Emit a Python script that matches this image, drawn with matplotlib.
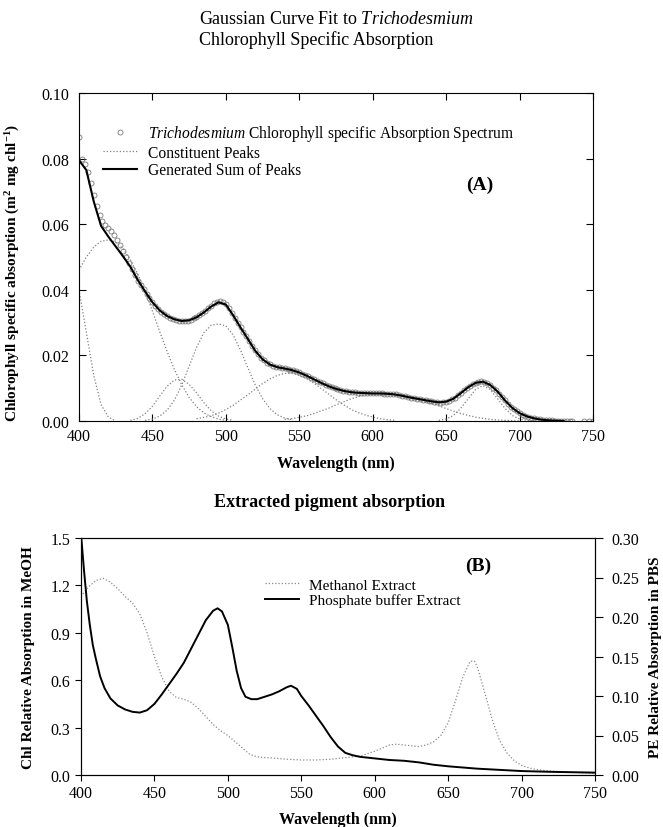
import numpy as np
import matplotlib
matplotlib.use('Agg')
from matplotlib import pyplot as plt
from matplotlib.ticker import FormatStrFormatter, MultipleLocator

plt.rcParams['font.family'] = ['Liberation Serif', 'DejaVu Serif']
plt.rcParams['mathtext.fontset'] = 'custom'
plt.rcParams['mathtext.rm'] = 'Liberation Serif'
plt.rcParams['mathtext.it'] = 'Liberation Serif:italic'
plt.rcParams['mathtext.bf'] = 'Liberation Serif:bold'

# --- панель A: спектр поглощения и гауссовы пики ---
obs_wl = list(range(400, 737, 2)) + [744, 747, 750]
obs_abs = [
    0.0866, 0.0800, 0.0785, 0.0760, 0.0725, 0.0690, 0.0655, 0.0628, 0.0610, 0.0598,
    0.0588, 0.0578, 0.0566, 0.0552, 0.0536, 0.0518, 0.0500, 0.0482, 0.0464, 0.0446,
    0.0428, 0.0414, 0.0401, 0.0388, 0.0375, 0.0363, 0.0352, 0.0342, 0.0333, 0.0325,
    0.0319, 0.0314, 0.0310, 0.0307, 0.0305, 0.0304, 0.0304, 0.0306, 0.0309, 0.0313,
    0.0318, 0.0323, 0.0329, 0.0336, 0.0344, 0.0352, 0.0359, 0.0364, 0.0366, 0.0364,
    0.0357, 0.0345, 0.0330, 0.0315, 0.0300, 0.0286, 0.0272, 0.0258, 0.0243, 0.0228,
    0.0215, 0.0203, 0.0193, 0.0185, 0.0178, 0.0173, 0.0169, 0.0166, 0.0164, 0.0162,
    0.0161, 0.0159, 0.0157, 0.0154, 0.0151, 0.0148, 0.0144, 0.0140, 0.0136, 0.0131,
    0.0127, 0.0123, 0.0119, 0.0115, 0.0111, 0.0107, 0.0103, 0.0100, 0.0097, 0.0094,
    0.0092, 0.0090, 0.0089, 0.0088, 0.0087, 0.0086, 0.0086, 0.0085, 0.0085, 0.0085,
    0.0084, 0.0084, 0.0084, 0.0084, 0.0083, 0.0083, 0.0083, 0.0082, 0.0081, 0.0079,
    0.0077, 0.0075, 0.0073, 0.0071, 0.0069, 0.0068, 0.0066, 0.0064, 0.0063, 0.0061,
    0.0060, 0.0058, 0.0057, 0.0056, 0.0057, 0.0059, 0.0062, 0.0066, 0.0071, 0.0078,
    0.0085, 0.0093, 0.0100, 0.0107, 0.0113, 0.0117, 0.0120, 0.0121, 0.0120, 0.0116,
    0.0110, 0.0102, 0.0093, 0.0083, 0.0073, 0.0063, 0.0053, 0.0044, 0.0036, 0.0029,
    0.0024, 0.0019, 0.0015, 0.0012, 0.0010, 0.0008, 0.0006, 0.0005, 0.0004, 0.0003,
    0.0002, 0.0002, 0.0001, 0.0001, 0.0001, 0.0000, 0.0000, 0.0000, 0.0000,
    0.0, 0.0, 0.0]

sum_wl = list(range(400, 731, 5))
sum_abs = [
    0.0795, 0.0765, 0.0670, 0.0595, 0.0562, 0.0532, 0.0502, 0.0470, 0.0430, 0.0395,
    0.0362, 0.0337, 0.0320, 0.0310, 0.0305, 0.0307, 0.0316, 0.0331, 0.0349, 0.0362,
    0.0355, 0.0322, 0.0285, 0.0250, 0.0214, 0.0188, 0.0172, 0.0164, 0.0160, 0.0155,
    0.0148, 0.0138, 0.0127, 0.0116, 0.0106, 0.0098, 0.0092, 0.0088, 0.0086, 0.0085,
    0.0084, 0.0084, 0.0083, 0.0081, 0.0077, 0.0072, 0.0068, 0.0064, 0.0060, 0.0057,
    0.0059, 0.0068, 0.0085, 0.0103, 0.0116, 0.0120, 0.0110, 0.0090, 0.0063, 0.0040,
    0.0024, 0.0014, 0.0008, 0.0004, 0.0002, 0.0001, 0.0000]

# отдельные пики, шаг 5 нм от начальной длины волны
peak_start = [400, 400, 435, 445, 480, 540, 645]
peak1 = [0.040, 0.027, 0.014, 0.005, 0.0012, 0.0]
peak2 = [0.046, 0.050, 0.053, 0.0548, 0.0552, 0.0545, 0.0525, 0.0492, 0.0448, 0.0395,
         0.0335, 0.0272, 0.0212, 0.0157, 0.0110, 0.0072, 0.0044, 0.0025, 0.0013, 0.0006,
         0.0002]
peak3 = [0.0002, 0.0008, 0.0022, 0.0045, 0.0076, 0.0106, 0.0125, 0.0127, 0.0112, 0.0086,
         0.0056, 0.0031, 0.0015, 0.0006, 0.0002]
peak4 = [0.0002, 0.0006, 0.0015, 0.0033, 0.0064, 0.0110, 0.0167, 0.0224, 0.0269, 0.0292,
         0.0296, 0.0290, 0.0262, 0.0216, 0.0162, 0.0110, 0.0068, 0.0038, 0.0019, 0.0009,
         0.0004]
peak5 = [0.0007, 0.0011, 0.0016, 0.0024, 0.0035, 0.0048, 0.0064, 0.0080, 0.0097, 0.0114,
         0.0128, 0.0139, 0.0145, 0.0145, 0.0139, 0.0129, 0.0115, 0.0099, 0.0082, 0.0065,
         0.0050, 0.0036, 0.0026, 0.0018, 0.0012, 0.0007, 0.0004, 0.0002]
peak6 = [0.0005, 0.0007, 0.0011, 0.0016, 0.0023, 0.0031, 0.0039, 0.0049, 0.0058, 0.0067,
         0.0074, 0.0079, 0.0082, 0.0083, 0.0083, 0.0082, 0.0079, 0.0075, 0.0069, 0.0062,
         0.0054, 0.0046, 0.0038, 0.0030, 0.0023, 0.0017, 0.0012, 0.0008, 0.0005, 0.0003,
         0.0002, 0.0001, 0.0]
peak7 = [0.0002, 0.0006, 0.0017, 0.0039, 0.0068, 0.0096, 0.0108, 0.0096, 0.0068, 0.0039,
         0.0017, 0.0006, 0.0002, 0.0]
peaks = [peak1, peak2, peak3, peak4, peak5, peak6, peak7]

# --- панель B: экстракты ---
meoh_wl = [400, 405, 410, 415, 420, 425, 430, 435, 440, 445, 450, 455, 460, 465, 470,
           475, 480, 485, 490, 495, 500, 505, 510, 515, 520, 525, 530, 540, 550, 560,
           570, 580, 590, 600, 605, 610, 615, 620, 625, 630, 635, 640, 645, 650, 655,
           660, 665, 668, 670, 675, 680, 685, 690, 695, 700, 705, 710, 720, 730, 740, 750]
meoh_abs = [1.13, 1.19, 1.23, 1.245, 1.22, 1.18, 1.13, 1.09, 1.02, 0.90, 0.75, 0.62, 0.53,
            0.49, 0.48, 0.46, 0.42, 0.37, 0.32, 0.28, 0.25, 0.21, 0.17, 0.13, 0.115,
            0.11, 0.108, 0.10, 0.095, 0.095, 0.10, 0.11, 0.12, 0.15, 0.17, 0.19, 0.195,
            0.19, 0.185, 0.18, 0.19, 0.21, 0.25, 0.33, 0.47, 0.62, 0.72, 0.72, 0.68,
            0.52, 0.35, 0.22, 0.14, 0.09, 0.06, 0.045, 0.035, 0.025, 0.02, 0.015, 0.01]

pbs_wl = [400, 402, 404, 406, 408, 410, 413, 416, 420, 425, 430, 435, 440, 445, 450,
          455, 460, 465, 470, 475, 480, 485, 490, 493, 496, 500, 503, 506, 509, 512,
          516, 520, 525, 530, 535, 540, 543, 547, 550, 555, 560, 565, 570, 575, 580,
          585, 590, 600, 610, 620, 630, 640, 650, 660, 670, 680, 690, 700, 720, 750]
pbs_abs = [0.305, 0.26, 0.22, 0.19, 0.165, 0.148, 0.125, 0.11, 0.097, 0.088, 0.083, 0.080,
           0.079, 0.082, 0.090, 0.102, 0.115, 0.128, 0.142, 0.160, 0.178, 0.196, 0.208,
           0.211, 0.207, 0.190, 0.162, 0.132, 0.110, 0.099, 0.096, 0.096, 0.099, 0.102,
           0.106, 0.111, 0.113, 0.109, 0.100, 0.088, 0.075, 0.062, 0.048, 0.036, 0.028,
           0.025, 0.023, 0.021, 0.019, 0.018, 0.016, 0.013, 0.011, 0.0095, 0.008, 0.007,
           0.006, 0.005, 0.004, 0.003]

W, H = 663, 828
fig = plt.figure(figsize=(W / 100, H / 100), dpi=100)


def px_box(x0, y0, x1, y1):
    return [x0 / W, 1 - y1 / H, (x1 - x0) / W, (y1 - y0) / H]


fig.text(199 / W, 1 - 20 / H, r'Gaussian Curve Fit to $\mathit{Trichodesmium}$',
         fontsize=13, va='center', ha='left')
fig.text(199 / W, 1 - 40 / H, 'Chlorophyll Specific Absorption',
         fontsize=13, va='center', ha='left')

# A
ax1 = fig.add_axes(px_box(79, 94, 593, 422))
ax1.plot(obs_wl, obs_abs, 'o', ms=3.6, mfc='none', mec='#7a7a7a', mew=0.6,
         label=r'$\mathit{Trichodesmium}$ Chlorophyll specific Absorption Spectrum')
for k, pk in enumerate(peaks):
    wl = [peak_start[k] + 5 * i for i in range(len(pk))]
    ax1.plot(wl, pk, color='#808080', lw=0.9, ls=(0, (1, 1.6)),
             label='Constituent Peaks' if k == 0 else None)
ax1.plot(sum_wl, sum_abs, color='black', lw=1.5, label='Generated Sum of Peaks')

ax1.set_xlim(400, 750)
ax1.set_ylim(0, 0.10)
ax1.xaxis.set_major_locator(MultipleLocator(50))
ax1.yaxis.set_major_locator(MultipleLocator(0.02))
ax1.yaxis.set_major_formatter(FormatStrFormatter('%.2f'))
ax1.tick_params(direction='in', top=True, right=True, length=5, width=0.8,
                labelsize=11.5, pad=5)
ax1.tick_params(axis='y', pad=7)
for s in ax1.spines.values():
    s.set_linewidth(0.8)
ax1.set_xlabel('Wavelength (nm)', fontsize=11.5, fontweight='bold', labelpad=8)
ax1.set_ylabel(r'Chlorophyll specific absorption (m$^{\mathbf{2}}$ mg chl$^{\mathbf{-1}}$)',
               fontsize=11, fontweight='bold')
ax1.yaxis.set_label_coords(-0.111, 0.455)

h, l = ax1.get_legend_handles_labels()
ax1.legend(h, l, loc='upper left', bbox_to_anchor=(103 / W, 1 - 124 / H),
           bbox_transform=fig.transFigure, frameon=False, fontsize=11.2,
           borderpad=0, borderaxespad=0, handlelength=2.2, handletextpad=0.7,
           labelspacing=0.1)
ax1.text(480 / W, 1 - 185 / H, '(A)', transform=fig.transFigure, fontsize=14,
         fontweight='bold', ha='center', va='center')

fig.text(330 / W, 1 - 503 / H, 'Extracted pigment absorption', fontsize=13,
         fontweight='bold', ha='center', va='center')

# B
ax2 = fig.add_axes(px_box(81, 539, 595, 776))
ax3 = ax2.twinx()
l1, = ax2.plot(meoh_wl, meoh_abs, color='#8a8a8a', lw=0.9, ls=(0, (1, 1.6)),
               label='Methanol Extract')
l2, = ax3.plot(pbs_wl, pbs_abs, color='black', lw=1.4, label='Phosphate buffer Extract')

ax2.set_xlim(400, 750)
ax2.set_ylim(0, 1.5)
ax3.set_ylim(0, 0.30)
ax2.xaxis.set_major_locator(MultipleLocator(50))
ax2.yaxis.set_major_locator(MultipleLocator(0.3))
ax2.yaxis.set_major_formatter(FormatStrFormatter('%.1f'))
ax3.yaxis.set_major_locator(MultipleLocator(0.05))
ax3.yaxis.set_major_formatter(FormatStrFormatter('%.2f'))
ax2.tick_params(direction='out', length=4.5, width=0.8, labelsize=11.5, pad=3)
ax3.tick_params(direction='out', length=6, width=0.8, labelsize=11.5, pad=6)
for a in (ax2, ax3):
    for s in a.spines.values():
        s.set_linewidth(0.8)
ax2.set_xlabel('Wavelength (nm)', fontsize=11.5, fontweight='bold', labelpad=7)
ax2.set_ylabel('Chl Relative Absorption in MeOH', fontsize=11, fontweight='bold')
ax2.yaxis.set_label_coords(-0.0895, 0.5)
ax3.set_ylabel('PE Relative Absorption in PBS', fontsize=11, fontweight='bold',
               rotation=90)
ax3.yaxis.set_label_coords(1.105, 0.5)

ax2.legend([l1, l2], ['Methanol Extract', 'Phosphate buffer Extract'], loc='upper left',
           bbox_to_anchor=(265 / W, 1 - 579 / H), bbox_transform=fig.transFigure,
           frameon=False, fontsize=11, borderpad=0, borderaxespad=0,
           handlelength=2.2, handletextpad=0.7, labelspacing=0.1)
ax2.text(478 / W, 1 - 566 / H, '(B)', transform=fig.transFigure, fontsize=14,
         fontweight='bold', ha='center', va='center')

fig.savefig('out.png', dpi=100)
